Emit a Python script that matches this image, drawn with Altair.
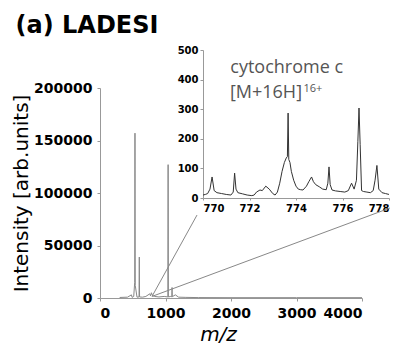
import altair as alt
import pandas as pd

# ---- main spectrum (m/z, intensity) ----
main_mz = [300, 420, 480, 490, 515, 530, 534, 538, 565, 596, 600, 604, 650, 700, 760,
           772, 785, 800, 830, 900, 980, 1036, 1040, 1044, 1080, 1096, 1100, 1104,
           1150, 1200, 1300, 1500, 2000, 3000, 4000]
main_int = [500, 800, 3000, 600, 1500, 15000, 157000, 12000, 800, 1000, 39000, 1000,
            800, 1500, 4000, 2000, 5000, 2500, 1500, 1000, 1500, 1000, 127000, 1000,
            1500, 1200, 10000, 1200, 3000, 800, 600, 400, 300, 300, 300]

# ---- inset spectrum (m/z 770-778) ----
ins_mz = [770.0, 770.1, 770.2, 770.3, 770.39, 770.48, 770.6, 770.8, 771.0, 771.2,
          771.3, 771.36, 771.42, 771.5, 771.7, 771.9, 772.1, 772.2, 772.3, 772.45,
          772.55, 772.7, 772.85, 773.0, 773.1, 773.2, 773.3, 773.4, 773.5, 773.58,
          773.63, 773.66, 773.69, 773.74, 773.8, 773.9, 774.0, 774.1, 774.2, 774.3,
          774.45, 774.55, 774.67, 774.75, 774.85, 775.0, 775.15, 775.3, 775.37, 775.42,
          775.47, 775.55, 775.7, 775.9, 776.1, 776.25, 776.39, 776.5, 776.6, 776.66,
          776.71, 776.76, 776.82, 776.9, 777.05, 777.2, 777.32, 777.4, 777.48, 777.56,
          777.7, 777.85, 778.0]
ins_int = [10, 12, 15, 30, 71, 25, 18, 15, 12, 10,
           20, 84, 30, 18, 14, 10, 8, 10, 20, 27,
           25, 40, 30, 15, 10, 20, 50, 90, 120, 135,
           140, 287, 130, 120, 90, 60, 40, 30, 28, 27,
           40, 55, 71, 55, 45, 38, 30, 28, 50, 105,
           45, 27, 24, 22, 20, 25, 50, 30, 60, 190,
           304, 180, 25, 22, 20, 18, 25, 60, 110, 30,
           18, 15, 12]

# ---- zoom connector lines (main-axis data coordinates) ----
conn_id = ["a", "a", "b", "b"]
conn_mz = [794, 1481, 794, 4427]
conn_int = [1500, 79000, 1500, 85700]

main_x_ticks = [0, 1000, 2000, 3000, 4000]
main_y_ticks = [0, 50000, 100000, 150000, 200000]
ins_x_ticks = [770, 772, 774, 776, 778]
ins_y_ticks = [0, 100, 200, 300, 400, 500]

FONT = "DejaVu Sans"
AXC = "#999999"

df_main = pd.DataFrame({"mz": main_mz, "int": main_int})
df_ins = pd.DataFrame({"mz": ins_mz, "int": ins_int})
df_conn = pd.DataFrame({"id": conn_id, "mz": conn_mz, "int": conn_int})

xs = alt.Scale(domain=[0, 4000], nice=False, zero=False)
ys = alt.Scale(domain=[0, 200000], nice=False)

main_line = alt.Chart(df_main).mark_line(color="#888888", strokeWidth=1).encode(
    x=alt.X("mz:Q", scale=xs, title="m/z",
            axis=alt.Axis(values=main_x_ticks, format="d", grid=False,
                          domainColor=AXC, tickColor=AXC, tickSize=3, labelPadding=5,
                          labelFont=FONT, labelFontWeight="bold", labelFontSize=14,
                          labelColor="black", titleFont=FONT, titleFontStyle="italic",
                          titleFontWeight="normal", titleFontSize=20, titleColor="black",
                          titleX=118, titlePadding=4)),
    y=alt.Y("int:Q", scale=ys, title="Intensity [arb.units]",
            axis=alt.Axis(values=main_y_ticks, format="d", grid=False,
                          domainColor=AXC, tickColor=AXC, tickSize=3, labelPadding=5,
                          labelFont=FONT, labelFontWeight="bold", labelFontSize=14,
                          labelColor="black", titleFont=FONT, titleFontWeight="normal",
                          titleFontSize=20, titleColor="black", titlePadding=2)),
    order="mz:Q",
)

conn = alt.Chart(df_conn).mark_line(color="#888888", strokeWidth=1).encode(
    x=alt.X("mz:Q", scale=xs), y=alt.Y("int:Q", scale=ys), detail="id:N"
)

main = alt.layer(main_line, conn)

ixs = alt.Scale(domain=[770, 778], range=[103, 289], nice=False, zero=False)
iys = alt.Scale(domain=[0, 500], range=[110, -38], nice=False)

ins_line = alt.Chart(df_ins).mark_line(color="#333333", strokeWidth=1).encode(
    x=alt.X("mz:Q", scale=ixs, title=None,
            axis=alt.Axis(orient="bottom", offset=-100, values=ins_x_ticks, format="d",
                          grid=False, domainColor=AXC, tickColor=AXC, tickSize=2,
                          labelPadding=3, labelFont=FONT, labelFontWeight="bold",
                          labelFontSize=10, labelColor="black")),
    y=alt.Y("int:Q", scale=iys, title=None,
            axis=alt.Axis(orient="left", offset=-103, values=ins_y_ticks, format="d",
                          grid=False, domainColor=AXC, tickColor=AXC, tickSize=3,
                          labelPadding=2, labelFont=FONT, labelFontWeight="bold",
                          labelFontSize=10, labelColor="black")),
    order="mz:Q",
)

lab_df = pd.DataFrame({"mz": [773.6], "int": [439], "t": ["cytochrome c"]})
lab1 = alt.Chart(lab_df).mark_text(font="Open Sans", fontSize=18, color="#555555",
                                   baseline="middle", align="center").encode(
    x=alt.X("mz:Q", scale=ixs), y=alt.Y("int:Q", scale=iys), text="t:N")
lab2_df = pd.DataFrame({"mz": [774.26], "int": [355], "t": ["[M+16H]"]})
lab2 = alt.Chart(lab2_df).mark_text(font="Open Sans", fontSize=18, color="#555555",
                                    baseline="middle", align="right").encode(
    x=alt.X("mz:Q", scale=ixs), y=alt.Y("int:Q", scale=iys), text="t:N")
lab3_df = pd.DataFrame({"mz": [774.32], "int": [368], "t": ["16+"]})
lab3 = alt.Chart(lab3_df).mark_text(font="Open Sans", fontSize=11, color="#555555",
                                    baseline="middle", align="left").encode(
    x=alt.X("mz:Q", scale=ixs), y=alt.Y("int:Q", scale=iys), text="t:N")

inset = alt.layer(ins_line, lab1, lab2, lab3)

chart = alt.layer(main, inset).resolve_scale(x="independent", y="independent").properties(
    width=262, height=210,
    autosize=alt.AutoSizeParams(type="none"),
    padding={"left": 92, "top": 80, "right": 29, "bottom": 47},
    title=alt.TitleParams("(a) LADESI", anchor="start", font=FONT, fontSize=24,
                          fontWeight="bold", color="black", dx=4, dy=-3),
).configure_view(stroke="transparent")

chart.save("out.html", embed_options={"renderer": "svg", "actions": False})
